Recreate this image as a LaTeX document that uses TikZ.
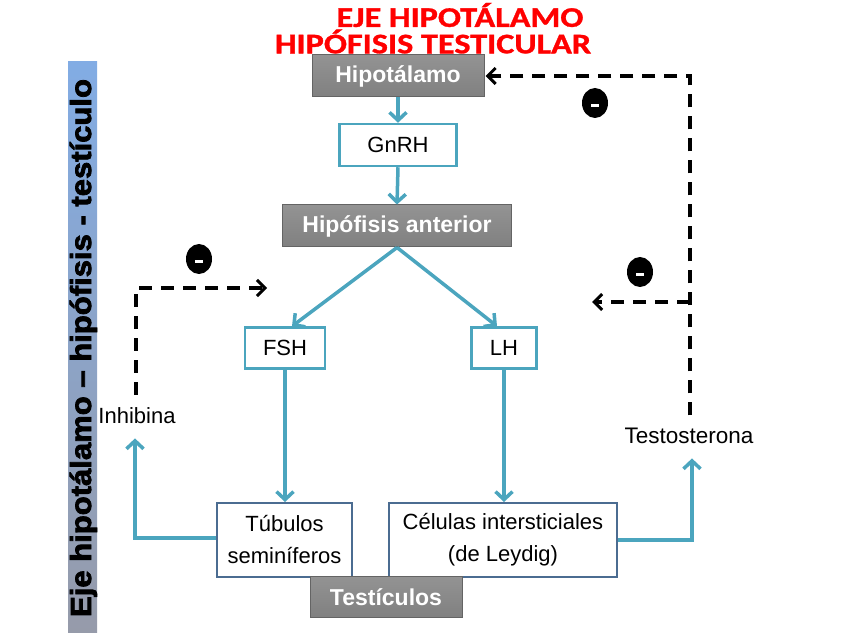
\documentclass[tikz,border=0pt]{standalone}
\usepackage{fontspec}
\setmainfont{Liberation Sans}
\newfontfamily\titlefont{Carlito}[BoldFeatures={FakeBold=1}]
\newfontfamily\sidefont{Liberation Sans}[BoldFeatures={FakeBold=2.5}]
\usetikzlibrary{arrows.meta,shapes.geometric,calc}
\definecolor{teal1}{RGB}{75,165,190}
\definecolor{slate1}{RGB}{75,108,145}
\definecolor{boxgray}{RGB}{128,128,128}
\definecolor{boxgrayd}{RGB}{100,100,100}
\definecolor{bartop}{RGB}{130,172,228}
\definecolor{barbot}{RGB}{150,155,170}
\tikzset{
  graybox/.style={draw=boxgrayd, line width=1pt, top color=boxgray!85!white, bottom color=boxgray, text=white,
    font=\fontsize{23}{27}\selectfont\bfseries, inner sep=0pt},
  tealbox/.style={draw=teal1, line width=2.5pt, fill=white, font=\fontsize{22}{26}\selectfont, inner sep=0pt},
  slatebox/.style={draw=slate1, line width=2pt, fill=white, font=\fontsize{22}{32}\selectfont, align=center, inner sep=0pt},
  lbl/.style={font=\fontsize{22}{26}\selectfont, inner sep=0pt},
  tarrow/.style={draw=teal1, line width=3.5pt, -{Straight Barb[length=8pt,width=17pt,line width=3.5pt]}},
  dasharrow/.style={draw=black, line width=3.5pt, dash pattern=on 13pt off 9pt, -{Straight Barb[length=8pt,width=16pt,line width=3pt]}},
  minusdot/.style={ellipse, fill=black, minimum width=26pt, minimum height=30pt, inner sep=0pt},
  titletext/.style={text=red, inner sep=0pt, font=\titlefont\fontsize{28.5}{30}\selectfont\bfseries}
}
\begin{document}
\begin{tikzpicture}[x=1pt,y=-1pt]
\useasboundingbox (0,0) rectangle (848,636);
% title
\node[titletext] (t1) at (460,15) {\scalebox{1.2}[1]{EJE HIPOTÁLAMO}};
\node[titletext] (t2) at (433,41.5) {\scalebox{1.2}[1]{HIPÓFISIS TESTICULAR}};
% side bar
\shade[top color=bartop, bottom color=barbot] (68,62) rectangle (97,632);
\node[rotate=90, anchor=base, inner sep=0pt, font=\sidefont\fontsize{29}{30}\selectfont\bfseries] (side) at (91,348)
  {\scalebox{1.07}[1]{Eje hipotálamo – hipófisis - testículo}};
% boxes
\node[graybox, minimum width=172pt, minimum height=42pt] (hipo) at (398,76) {Hipotálamo};
\node[tealbox, minimum width=117pt, minimum height=42pt] (gnrh) at (398,145) {GnRH};
\node[graybox, minimum width=229pt, minimum height=42pt] (hipof) at (397,226) {Hipófisis anterior};
\node[tealbox, minimum width=80pt, minimum height=41pt] (fsh) at (285,348) {FSH};
\node[tealbox, minimum width=65pt, minimum height=41pt] (lh) at (504,348) {LH};
\node[slatebox, minimum width=135pt, minimum height=74pt] (tub) at (284.5,540) {Túbulos\\seminíferos};
\node[slatebox, minimum width=228pt, minimum height=74pt] (cel) at (503,540) {Células intersticiales\\(de Leydig)};
\node[graybox, minimum width=152pt, minimum height=41pt] (testi) at (386,597) {Testículos};
% labels
\node[lbl, anchor=base] (inh) at (137,423) {Inhibina};
\node[lbl, anchor=base, font=\fontsize{22.5}{26}\selectfont] (testo) at (689,443) {Testosterona};
% teal arrows
\draw[tarrow] (hipo.south) -- (gnrh.north);
\draw[tarrow] (gnrh.south) -- (hipof.north);
\draw[tarrow] (hipof.south) -- ([xshift=7pt]fsh.north);
\draw[tarrow] (hipof.south) -- ([xshift=-7pt]lh.north);
\draw[tarrow] (fsh.south) -- (fsh.south |- tub.north);
\draw[tarrow] (lh.south) -- (lh.south |- cel.north);
\draw[tarrow] ([yshift=2pt]tub.west) -| ([xshift=-2pt,yshift=-15pt]inh.south);
\draw[tarrow] (cel.east) -| ([xshift=3pt,yshift=-15pt]testo.south);
% dashed feedback
\coordinate (fshtarget) at (267,288);
\coordinate (branch) at (690,302);
\coordinate (branchtarget) at (592,302);
\draw[dasharrow] ([xshift=-1pt,yshift=12pt]inh.north) |- (fshtarget);
\draw[dasharrow] ([xshift=1pt,yshift=12pt]testo.north) |- ([xshift=1pt]hipo.east);
\draw[dasharrow] (branch) -- (branchtarget);
% minus signs
\foreach \n/\p in {m1/{(199,259)}, m2/{(595,103)}, m3/{(640,272)}}{
  \node[minusdot] (\n) at \p {};
  \fill[white] ($(\n.center)+(-4,1)$) rectangle ($(\n.center)+(4,4)$);
}
\end{tikzpicture}
\end{document}
